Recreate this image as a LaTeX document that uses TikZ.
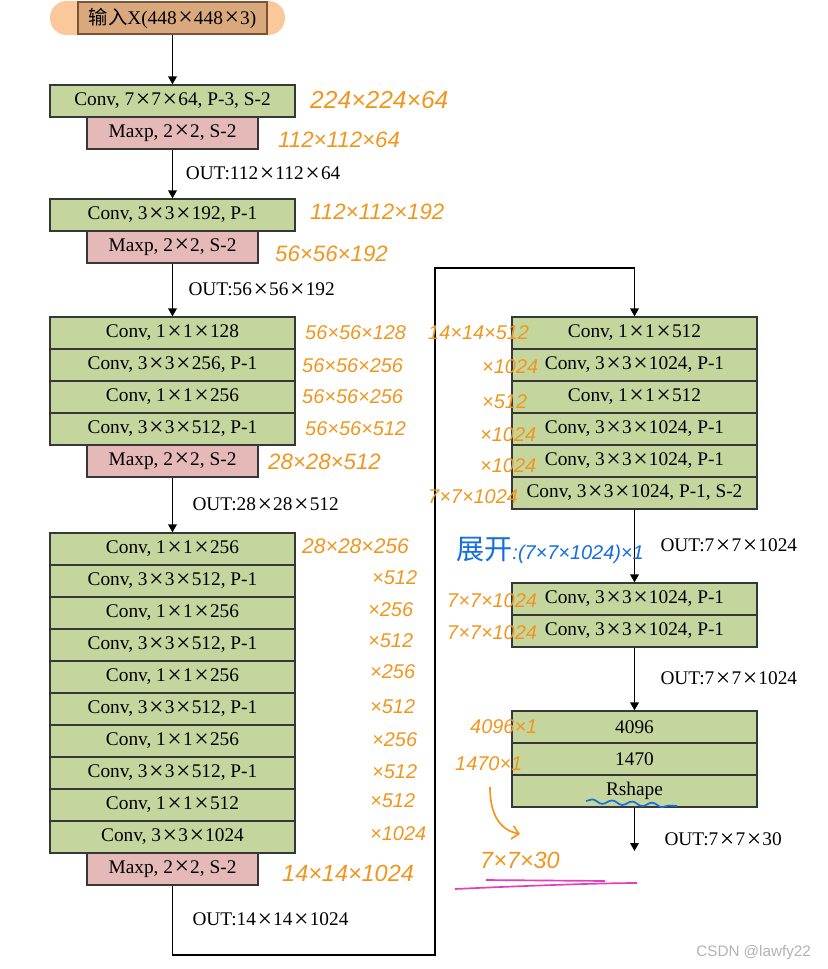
\documentclass[tikz,border=0pt]{standalone}
\usepackage{fontspec}
\setmainfont{Liberation Serif}
\newfontfamily\cjk{Noto Sans CJK SC}
\newfontfamily\handfont{Liberation Sans}
\usetikzlibrary{arrows.meta, positioning, decorations.pathmorphing}

\definecolor{convgreen}{RGB}{196,214,158}
\definecolor{poolpink}{RGB}{229,185,183}
\definecolor{inorange}{RGB}{250,200,155}
\definecolor{intan}{RGB}{218,168,125}
\definecolor{inbrown}{RGB}{120,85,55}
\definecolor{edgegray}{RGB}{55,55,55}
\definecolor{penorange}{RGB}{240,150,30}
\definecolor{penblue}{RGB}{20,110,220}
\definecolor{penpink}{RGB}{230,60,190}

% wide multiplication sign, as in the printed labels
\newcommand{\by}{\kern.08em\raisebox{-.08em}{\fontsize{22}{18}\selectfont ×}\kern.06em}

\tikzset{
    layer/.style={draw=edgegray, line width=0.4mm, minimum height=9.6mm, inner sep=0pt, font=\fontsize{16.5}{18}\selectfont},
    conv/.style={layer, fill=convgreen, minimum width=73.5mm},
    maxp/.style={layer, fill=poolpink, minimum width=51.3mm},
    outl/.style={anchor=west, inner sep=0pt, font=\fontsize{16.5}{18}\selectfont},
    flow/.style={draw=black, line width=0.4mm, -{Triangle[length=2.4mm, width=2.6mm]}},
    pen/.style={text=penorange, anchor=west, inner sep=0pt, font=\handfont\itshape\fontsize{17}{17}\selectfont},
}

\begin{document}
\begin{tikzpicture}[x=0.3mm, y=-0.3mm]
    \useasboundingbox (0,0) rectangle (828,969);

    % input
    \node[fill=inorange, rounded corners=5mm, minimum width=70.5mm, minimum height=10.2mm] (inbg) at (167.5,18) {};
    \node[layer, fill=intan, draw=inbrown, minimum width=56.7mm] (in) at (172.5,18) {{\cjk 输入}X(448\by 448\by 3)};

    % left column
    \node[conv] (c1) at (172.5,101) {Conv, 7\by 7\by 64, P-3, S-2};
    \node[maxp] (m1) at (172.5,133) {Maxp, 2\by 2, S-2};
    \node[conv] (c2) at (172.5,215) {Conv, 3\by 3\by 192, P-1};
    \node[maxp] (m2) at (172.5,247) {Maxp, 2\by 2, S-2};

    \node[conv] (c3a) at (172.5,333) {Conv, 1\by 1\by 128};
    \node[conv] (c3b) at (172.5,365) {Conv, 3\by 3\by 256, P-1};
    \node[conv] (c3c) at (172.5,397) {Conv, 1\by 1\by 256};
    \node[conv] (c3d) at (172.5,429) {Conv, 3\by 3\by 512, P-1};
    \node[maxp] (m3) at (172.5,461) {Maxp, 2\by 2, S-2};

    \node[conv] (c4a) at (172.5,549) {Conv, 1\by 1\by 256};
    \node[conv] (c4b) at (172.5,581) {Conv, 3\by 3\by 512, P-1};
    \node[conv] (c4c) at (172.5,613) {Conv, 1\by 1\by 256};
    \node[conv] (c4d) at (172.5,645) {Conv, 3\by 3\by 512, P-1};
    \node[conv] (c4e) at (172.5,677) {Conv, 1\by 1\by 256};
    \node[conv] (c4f) at (172.5,709) {Conv, 3\by 3\by 512, P-1};
    \node[conv] (c4g) at (172.5,741) {Conv, 1\by 1\by 256};
    \node[conv] (c4h) at (172.5,773) {Conv, 3\by 3\by 512, P-1};
    \node[conv] (c4i) at (172.5,805) {Conv, 1\by 1\by 512};
    \node[conv] (c4j) at (172.5,837) {Conv, 3\by 3\by 1024};
    \node[maxp] (m4) at (172.5,869) {Maxp, 2\by 2, S-2};

    % right column
    \node[conv] (c5a) at (634.5,333) {Conv, 1\by 1\by 512};
    \node[conv] (c5b) at (634.5,365) {Conv, 3\by 3\by 1024, P-1};
    \node[conv] (c5c) at (634.5,397) {Conv, 1\by 1\by 512};
    \node[conv] (c5d) at (634.5,429) {Conv, 3\by 3\by 1024, P-1};
    \node[conv] (c5e) at (634.5,461) {Conv, 3\by 3\by 1024, P-1};
    \node[conv] (c5f) at (634.5,493) {Conv, 3\by 3\by 1024, P-1, S-2};

    \node[conv] (c6a) at (634.5,599) {Conv, 3\by 3\by 1024, P-1};
    \node[conv] (c6b) at (634.5,631) {Conv, 3\by 3\by 1024, P-1};

    \node[conv] (fc1) at (634.5,727) {4096};
    \node[conv] (fc2) at (634.5,759) {1470};
    \node[conv] (rs) at (634.5,791) {Rshape};
    \coordinate (end) at (634.5,851);

    \coordinate (turnA) at (172.5,955);
    \coordinate (turnB) at (435,268);

    % connectors
    \draw[flow] (in.south) -- (c1.north);
    \draw[flow] (m1.south) -- node[outl, xshift=3.8mm] (o1) {OUT:112\by 112\by 64} (c2.north);
    \draw[flow] (m2.south) -- node[outl, xshift=4.6mm] (o2) {OUT:56\by 56\by 192} (c3a.north);
    \draw[flow] (m3.south) -- node[outl, xshift=5.8mm] (o3) {OUT:28\by 28\by 512} (c4a.north);
    \draw[flow] (m4.south) -- node[outl, xshift=5.8mm] (o4) {OUT:14\by 14\by 1024} (turnA) -| (turnB) -| (c5a.north);
    \draw[flow] (c5f.south) -- node[outl, xshift=7.6mm] (o5) {OUT:7\by 7\by 1024} (c6a.north);
    \draw[flow] (c6b.south) -- node[outl, xshift=7.6mm] (o6) {OUT:7\by 7\by 1024} (fc1.north);
    \draw[flow] (rs.south) -- node[outl, xshift=8.8mm, pos=0.75] (o7) {OUT:7\by 7\by 30} (end);

    % handwritten notes
    \node[pen, font=\handfont\itshape\fontsize{21}{21}\selectfont] (h1) at (310,100) {224×224×64};
    \node[pen, font=\handfont\itshape\fontsize{19}{19}\selectfont] (h2) at (278,140) {112×112×64};
    \node[pen, font=\handfont\itshape\fontsize{19}{19}\selectfont] (h3) at (310,212) {112×112×192};
    \node[pen, font=\handfont\itshape\fontsize{19}{19}\selectfont] (h4) at (275,254) {56×56×192};
    \node[pen] (h5) at (305,333) {56×56×128};
    \node[pen] (h6) at (302,366) {56×56×256};
    \node[pen] (h7) at (302,397) {56×56×256};
    \node[pen] (h8) at (305,429) {56×56×512};
    \node[pen, font=\handfont\itshape\fontsize{19}{19}\selectfont] (h9) at (268,462) {28×28×512};
    \node[pen, font=\handfont\itshape\fontsize{18}{18}\selectfont] (h10) at (302,546) {28×28×256};
    \node[pen] (h11) at (372,578) {×512};
    \node[pen] (h12) at (368,610) {×256};
    \node[pen] (h13) at (368,641) {×512};
    \node[pen] (h14) at (370,672) {×256};
    \node[pen] (h15) at (370,707) {×512};
    \node[pen] (h16) at (372,740) {×256};
    \node[pen] (h17) at (372,772) {×512};
    \node[pen] (h18) at (370,801) {×512};
    \node[pen] (h19) at (370,834) {×1024};
    \node[pen, font=\handfont\itshape\fontsize{20}{20}\selectfont] (h20) at (282,873) {14×14×1024};

    \node[pen] (h21) at (428,333) {14×14×512};
    \node[pen] (h22) at (482,367) {×1024};
    \node[pen] (h23) at (482,402) {×512};
    \node[pen] (h24) at (480,435) {×1024};
    \node[pen] (h25) at (480,466) {×1024};
    \node[pen] (h26) at (428,497) {7×7×1024};
    \node[pen, text=penblue] (h27) at (456,550) {{\cjk\upshape\fontsize{24}{24}\selectfont 展开}:(7×7×1024)×1};
    \node[pen] (h28) at (447,601) {7×7×1024};
    \node[pen] (h29) at (447,633) {7×7×1024};
    \node[pen] (h30) at (470,727) {4096×1};
    \node[pen] (h31) at (455,764) {1470×1};
    \node[pen, font=\handfont\itshape\fontsize{20}{20}\selectfont] (h32) at (480,860) {7×7×30};

    \draw[penorange, line width=0.5mm, -{Straight Barb[length=2mm]}] (490,787) .. controls (490,815) and (500,830) .. (520,834);
    \draw[penblue, line width=0.5mm, decorate, decoration={snake, amplitude=0.6mm, segment length=6mm}] (586,801) -- (677,806);
    \draw[penpink, line width=0.5mm] (486,880) -- (605,881);
    \draw[penpink, line width=0.5mm] (455,889) .. controls (520,886) and (600,883) .. (637,883);

    \node[anchor=east, text=gray!60, font=\handfont\fontsize{13}{13}\selectfont] (mark) at (815,953) {CSDN @lawfy22};
\end{tikzpicture}
\end{document}
